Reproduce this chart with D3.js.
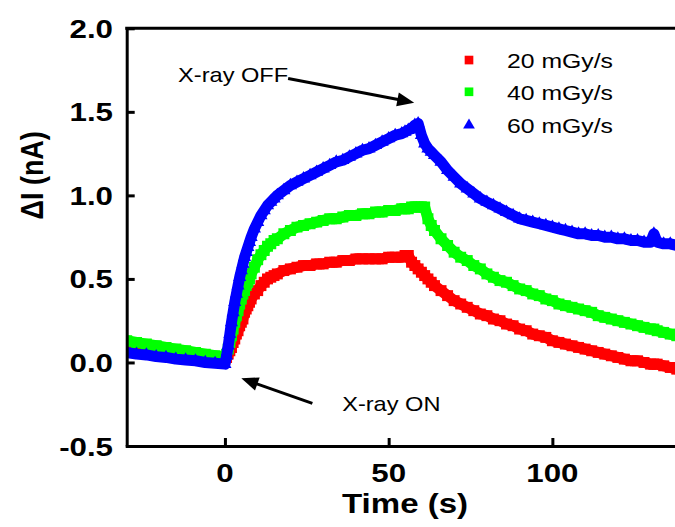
<!DOCTYPE html>
<html><head><meta charset="utf-8">
<script src="https://cdn.jsdelivr.net/npm/d3@7"></script>
<style>body{margin:0;background:#fff}svg{display:block}</style>
</head><body>
<svg id="chart" width="675" height="527"></svg>
<script>
// ---- data ----
const time = [-30,-27,-24,-21,-18,-15,-12,-9,-6,-3,0,
  0.5,1,1.5,2,2.5,3,3.5,4,4.5,5,5.5,6,6.5,7,7.5,8,
  9,10,11,12,13,14,15,16,
  18,20,22,24,26,28,30,32,34,36,38,40,42,44,46,48,50,52,54,
  55,56,57,58,59,60,61,62,63,64,
  66,68,70,72,74,76,78,80,82,84,86,88,90,92,94,96,98,100,102,104,106,108,110,112,114,116,118,120,122,124,126,128,130,
  131,132,134,136,138];

const dose20 = [0.09,0.085,0.08,0.07,0.065,0.06,0.055,0.05,0.04,0.035,0.02,
  0.03,0.05,0.07,0.09,0.12,0.14,0.17,0.19,0.22,0.24,0.26,0.30,0.32,0.34,0.36,0.38,
  0.41,0.43,0.46,0.48,0.50,0.51,0.52,0.53,
  0.55,0.56,0.57,0.58,0.58,0.59,0.59,0.60,0.60,0.61,0.61,0.62,0.62,0.62,0.62,0.62,0.63,0.63,0.63,
  0.64,0.64,0.60,0.58,0.56,0.54,0.52,0.50,0.48,0.46,
  0.43,0.40,0.37,0.35,0.33,0.31,0.29,0.28,0.26,0.25,0.23,0.22,0.20,0.19,0.17,0.16,0.15,0.13,0.12,0.11,0.10,0.09,0.08,0.07,0.06,0.05,0.04,0.03,0.02,0.01,0.01,0.00,-0.01,
  -0.01,-0.01,-0.02,-0.03,-0.04];

const dose40 = [0.13,0.12,0.11,0.10,0.09,0.08,0.07,0.06,0.05,0.04,0.03,
  0.05,0.08,0.12,0.16,0.20,0.24,0.28,0.31,0.35,0.38,0.41,0.43,0.46,0.48,0.50,0.53,
  0.57,0.615,0.645,0.67,0.695,0.71,0.73,0.74,
  0.77,0.79,0.81,0.82,0.83,0.84,0.85,0.86,0.86,0.87,0.88,0.88,0.89,0.89,0.90,0.90,0.91,0.91,0.92,
  0.92,0.92,0.93,0.93,0.93,0.93,0.93,0.86,0.82,0.79,
  0.74,0.70,0.66,0.63,0.61,0.58,0.56,0.53,0.51,0.49,0.48,0.46,0.44,0.43,0.41,0.40,0.38,0.37,0.35,0.34,0.33,0.32,0.31,0.30,0.28,0.27,0.26,0.25,0.24,0.23,0.22,0.21,0.20,
  0.20,0.19,0.18,0.17,0.16];

const dose60 = [0.06,0.05,0.045,0.035,0.03,0.02,0.015,0.01,0.0,-0.005,-0.01,
  0.04,0.10,0.17,0.24,0.30,0.36,0.41,0.46,0.51,0.55,0.59,0.63,0.66,0.69,0.72,0.75,
  0.80,0.84,0.88,0.91,0.94,0.96,0.98,1.00,
  1.03,1.06,1.08,1.10,1.12,1.14,1.16,1.18,1.20,1.21,1.23,1.25,1.27,1.28,1.30,1.32,1.34,1.36,1.37,
  1.38,1.39,1.40,1.42,1.43,1.36,1.31,1.28,1.26,1.24,
  1.20,1.15,1.11,1.07,1.04,1.01,0.98,0.96,0.94,0.92,0.90,0.88,0.86,0.85,0.84,0.83,0.82,0.81,0.80,0.79,0.78,0.77,0.77,0.76,0.76,0.75,0.75,0.74,0.74,0.73,0.73,0.72,0.72,
  0.77,0.72,0.71,0.71,0.70];

const seriesNames = ["20 mGy/s","40 mGy/s","60 mGy/s"];
const seriesColors = ["#ff0000","#00ff00","#0000ff"];
const seriesShapes = ["square","square","triangle"];
const seriesValues = [dose20, dose40, dose60];

const xTicks = [0,50,100];
const xTickLabels = ["0","50","100"];
const yTicks = [-0.5,0,0.5,1.0,1.5,2.0];
const yTickLabels = ["-0.5","0.0","0.5","1.0","1.5","2.0"];
const xTitle = "Time (s)";
const yTitle = "\u0394I (nA)";
const annotations = [
  {text:"X-ray OFF", t:-14.3, v:1.68, from:[19.3, 1.70], to:[57.8, 1.555]},
  {text:"X-ray ON", t:35.8, v:-0.29, from:[26.7, -0.245], to:[5.0, -0.095]}
];

// ---- layout ----
const SX = 1.18; // horizontal stretch of the original rendering
const svg = d3.select("#chart");
const L = 126.7, R = 676.8, T = 28.3, B = 446;
const x = d3.scaleLinear().domain([-30,138]).range([L,R]);
const y = d3.scaleLinear().domain([-0.5,2.0]).range([B,T]);
const FONT = "'Liberation Sans', Arial, Helvetica, sans-serif";

function stext(px, py, txt, size, weight, anchor){
  return svg.append("g").attr("transform",`translate(${px},${py}) scale(${SX},1)`)
    .append("text").attr("x",0).attr("y",0)
    .attr("font-family",FONT).attr("font-size",size).attr("font-weight",weight)
    .attr("text-anchor",anchor).attr("fill","#000").text(txt);
}

svg.append("defs").append("clipPath").attr("id","plotclip")
  .append("rect").attr("x",L).attr("y",T).attr("width",R-L).attr("height",B-T);

// ---- data ----
const plot = svg.append("g").attr("clip-path","url(#plotclip)");
const line = d3.line().x((d,i)=>x(time[i])).y(d=>y(d));
const sq = d3.symbol().type(d3.symbolSquare).size(120);
const tri = d3.symbol().type(d3.symbolTriangle).size(75);
seriesValues.forEach((vals,k)=>{
  const g = plot.append("g");
  g.append("path").attr("d",line(vals)).attr("fill","none")
    .attr("stroke",seriesColors[k]).attr("stroke-width",11).attr("stroke-linejoin","round");
  g.selectAll("path.m").data(vals).join("path").attr("class","m")
    .attr("transform",(d,i)=>`translate(${x(time[i])},${y(d)})`)
    .attr("d", seriesShapes[k]==="square" ? sq() : tri())
    .attr("fill",seriesColors[k]);
});

// ---- axes ----
const axL = svg.append("g").attr("transform",`translate(${L},0)`)
  .call(d3.axisLeft(y).tickValues(yTicks).tickSizeInner(-8).tickSizeOuter(0).tickFormat(""));
const axB = svg.append("g").attr("transform",`translate(0,${B})`)
  .call(d3.axisBottom(x).tickValues(xTicks).tickSizeInner(-8).tickSizeOuter(0).tickFormat(""));
[axL,axB].forEach(a=>{a.selectAll("path,line").attr("stroke","#000").attr("stroke-width",3);});
axB.select(".domain").attr("stroke-linecap","square");
svg.append("line").attr("x1",L).attr("x2",R).attr("y1",T).attr("y2",T)
  .attr("stroke","#000").attr("stroke-width",3).attr("stroke-linecap","square");

yTicks.forEach((v,i)=> stext(113, y(v)+9.5, yTickLabels[i], 26.5, "bold","end"));
xTicks.forEach((v,i)=> stext(x(v), 482, xTickLabels[i], 26.5, "bold","middle"));
stext(x(55), 513, xTitle, 28, "bold","middle");
svg.append("g").attr("transform",`translate(43,${y(1.12)}) scale(${SX},1) rotate(-90)`)
  .append("text").attr("text-anchor","middle").attr("font-family",FONT)
  .attr("font-size",27).attr("font-weight","bold").text(yTitle);

// ---- legend ----
const legY = [1.81, 1.62, 1.42];
seriesNames.forEach((n,k)=>{
  const cy = y(legY[k]);
  svg.append("path").attr("transform",`translate(469,${cy})`)
    .attr("d", seriesShapes[k]==="square" ? d3.symbol().type(d3.symbolSquare).size(75)() : d3.symbol().type(d3.symbolTriangle).size(60)())
    .attr("fill",seriesColors[k]);
  stext(507, cy+8, n, 21, "normal","start");
});

// ---- annotations ----
annotations.forEach(a=>{
  stext(x(a.t), y(a.v), a.text, 20, "normal","start");
  const x1 = x(a.from[0]), y1 = y(a.from[1]), x2 = x(a.to[0]), y2 = y(a.to[1]);
  const ang = Math.atan2(y2-y1, x2-x1), HL = 17, HW = 7;
  const bx = x2 - HL*Math.cos(ang), by = y2 - HL*Math.sin(ang);
  svg.append("line").attr("x1",x1).attr("y1",y1).attr("x2",bx+2*Math.cos(ang)).attr("y2",by+2*Math.sin(ang))
    .attr("stroke","#000").attr("stroke-width",3);
  svg.append("path").attr("fill","#000").attr("d",
    `M${x2},${y2}L${bx - HW*Math.sin(ang)},${by + HW*Math.cos(ang)}L${bx + HW*Math.sin(ang)},${by - HW*Math.cos(ang)}Z`);
});
</script>
</body></html>
